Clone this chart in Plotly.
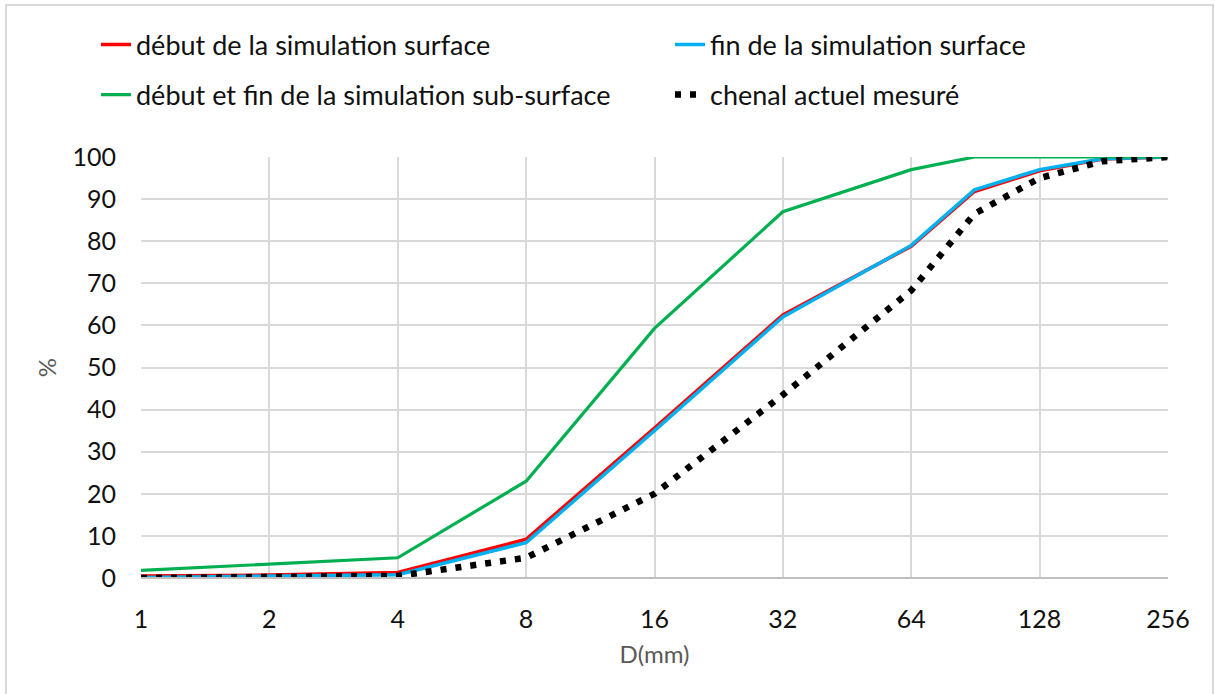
import plotly.graph_objects as go

# Grain size D (mm)
d_mm = [1, 2, 4, 8, 16, 32, 64, 90, 128, 180, 256]

# Cumulative % passing
debut_surface = [0.5, 0.7, 1.3, 9.2, 35.6, 62.5, 78.8, 91.8, 96.7, 99.5, 100]
fin_surface = [0.1, 0.4, 0.8, 8.4, 35.0, 62.0, 79.0, 92.2, 97.0, 99.6, 100]
sub_surface = [1.8, 3.3, 4.8, 23.0, 59.3, 87.0, 97.0, 100, 100, 100, 100]
chenal_mesure = [0.0, 0.2, 0.5, 4.8, 20.0, 43.5, 68.3, 86.5, 95.0, 99.0, 100]

names = [
    "début de la simulation surface",
    "fin de la simulation surface",
    "début et fin de la simulation sub-surface",
    "chenal actuel mesuré",
]

x_ticks = [1, 2, 4, 8, 16, 32, 64, 128, 256]
y_ticks = list(range(0, 101, 10))

FONT = "Lato, 'Open Sans', sans-serif"
W, H = 1215, 694

fig = go.Figure()
fig.add_trace(go.Scatter(x=d_mm, y=debut_surface, mode="lines", name=names[0],
                         line=dict(color="#FF0000", width=3.5), legend="legend",
                         showlegend=True))
fig.add_trace(go.Scatter(x=d_mm, y=fin_surface, mode="lines", name=names[1],
                         line=dict(color="#00B0F0", width=3.5), legend="legend2",
                         showlegend=True))
fig.add_trace(go.Scatter(x=d_mm, y=sub_surface, mode="lines", name=names[2],
                         line=dict(color="#00B050", width=3.2), legend="legend3",
                         showlegend=True))
fig.add_trace(go.Scatter(x=d_mm, y=chenal_mesure, mode="lines", name=names[3],
                         line=dict(color="#000000", width=6.5, dash="6px,9px"), legend="legend4",
                         showlegend=True))


def leg(xpx, ypx):
    return dict(
        orientation="h", xref="container", yref="container",
        xanchor="left", yanchor="middle",
        x=xpx / W, y=1 - ypx / H, visible=True,
        font=dict(family=FONT, size=27, color="#111111"),
        bgcolor="rgba(0,0,0,0)", itemclick=False, itemdoubleclick=False,
    )


fig.update_layout(
    width=W, height=H,
    margin=dict(l=141, r=47, t=157, b=116),
    paper_bgcolor="white", plot_bgcolor="white",
    font=dict(family=FONT, color="#111111"),
    hovermode=False,
    showlegend=True,
    legend=leg(96, 45),
    legend2=leg(670, 45),
    legend3=leg(96, 95),
    legend4=leg(670, 95),
    xaxis=dict(
        type="log", range=[0, 2.40824], tickvals=x_ticks,
        ticktext=[str(v) for v in x_ticks],
        showgrid=True, gridcolor="#D9D9D9", gridwidth=2,
        showline=False, zeroline=False, ticks="",
        tickfont=dict(family=FONT, size=25, color="#111111"),
        ticklabelstandoff=24,
        title=dict(text="D(mm)", font=dict(family=FONT, size=24, color="#595959"), standoff=14),
    ),
    yaxis=dict(
        range=[0, 100], tickvals=y_ticks,
        showgrid=True, gridcolor="#D9D9D9", gridwidth=2,
        showline=False, zeroline=False, ticks="",
        tickfont=dict(family=FONT, size=25, color="#111111"),
        ticklabelstandoff=24,
        title=dict(text="%", font=dict(family=FONT, size=24, color="#595959"), standoff=9),
    ),
    shapes=[
        dict(type="line", xref="paper", yref="paper", x0=0, x1=1, y0=0, y1=0,
             line=dict(color="#BFBFBF", width=2), layer="above"),
        dict(type="rect", xref="paper", yref="paper",
             x0=-0.1315, x1=1.0438, y0=-0.3, y1=1.361,
             line=dict(color="#D9D9D9", width=2), layer="below"),
    ],
)

fig.write_html("out.html", config={"displayModeBar": False},
               post_script="document.body.style.margin='0px';")
